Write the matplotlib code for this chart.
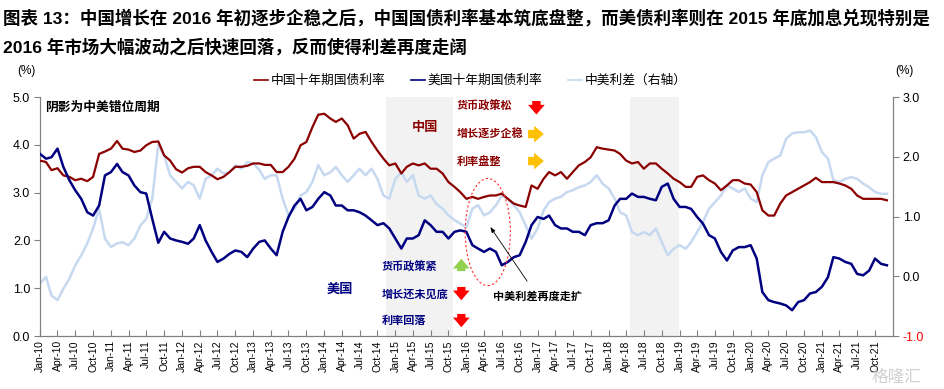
import pandas as pd
import matplotlib
matplotlib.use("Agg")
import matplotlib.pyplot as plt
from matplotlib.patches import Ellipse

plt.rcParams["font.family"] = ["Liberation Sans", "Noto Sans CJK SC", "DejaVu Sans"]

# Monthly readings, Jan 2010 - Dec 2021
cn_10y = [
    3.67, 3.64, 3.47, 3.51, 3.36, 3.33, 3.26, 3.29, 3.24, 3.33, 3.81, 3.86,
    3.92, 4.08, 3.92, 3.90, 3.85, 3.88, 3.99, 4.06, 4.07, 3.78, 3.67, 3.49,
    3.42, 3.51, 3.54, 3.54, 3.43, 3.36, 3.28, 3.33, 3.43, 3.54, 3.54, 3.56,
    3.61, 3.61, 3.58, 3.58, 3.43, 3.43, 3.54, 3.71, 3.99, 4.06, 4.37, 4.63,
    4.65, 4.55, 4.48, 4.55, 4.41, 4.13, 4.23, 4.27, 4.06, 3.88, 3.71, 3.57,
    3.61, 3.40, 3.54, 3.61, 3.57, 3.61, 3.50, 3.50, 3.40, 3.22, 3.12, 3.01,
    2.87, 2.91, 2.87, 2.91, 2.94, 2.94, 2.98, 2.87, 2.77, 2.73, 2.70, 3.15,
    3.08, 3.29, 3.43, 3.36, 3.43, 3.29, 3.43, 3.57, 3.64, 3.74, 3.95, 3.92,
    3.90, 3.88, 3.81, 3.67, 3.61, 3.64, 3.50, 3.61, 3.61, 3.50, 3.40, 3.29,
    3.22, 3.12, 3.12, 3.33, 3.36, 3.26, 3.19, 3.05, 3.15, 3.26, 3.26, 3.19,
    3.17, 3.01, 2.63, 2.52, 2.52, 2.77, 2.94, 3.01, 3.08, 3.15, 3.22, 3.31,
    3.22, 3.22, 3.22, 3.19, 3.15, 3.08, 2.94, 2.87, 2.87, 2.87, 2.87, 2.84,
]
us_10y = [
    3.81, 3.71, 3.74, 3.92, 3.54, 3.26, 3.05, 2.87, 2.59, 2.52, 2.73, 3.36,
    3.43, 3.60, 3.43, 3.36, 3.15, 3.01, 2.98, 2.45, 1.95, 2.18, 2.04, 2.00,
    1.97, 1.93, 2.04, 2.32, 2.00, 1.76, 1.55, 1.62, 1.72, 1.79, 1.76, 1.65,
    1.83, 1.97, 2.00, 1.83, 1.69, 2.18, 2.49, 2.73, 2.87, 2.63, 2.70, 2.87,
    3.01, 2.94, 2.73, 2.73, 2.63, 2.63, 2.59, 2.52, 2.42, 2.32, 2.36, 2.25,
    2.04, 1.83, 2.04, 2.04, 2.11, 2.42, 2.32, 2.18, 2.18, 2.04, 2.18, 2.21,
    2.18, 1.90, 1.83, 1.76, 1.83, 1.76, 1.48, 1.55, 1.65, 1.69, 1.97, 2.32,
    2.49, 2.45, 2.52, 2.32, 2.25, 2.25, 2.18, 2.18, 2.11, 2.32, 2.36, 2.36,
    2.42, 2.73, 2.87, 2.87, 2.98, 2.91, 2.91, 2.87, 2.84, 3.12, 3.19, 2.87,
    2.70, 2.70, 2.66, 2.49, 2.35, 2.11, 2.04, 1.76, 1.58, 1.79, 1.86, 1.86,
    1.90, 1.62, 0.92, 0.75, 0.71, 0.68, 0.64, 0.54, 0.71, 0.75, 0.89, 0.92,
    1.03, 1.23, 1.65, 1.62, 1.55, 1.51, 1.30, 1.27, 1.37, 1.62, 1.51, 1.48,
]
spread = [
    -0.12, -0.01, -0.32, -0.40, -0.21, -0.04, 0.18, 0.35, 0.55, 0.80, 1.13, 0.63,
    0.49, 0.55, 0.57, 0.52, 0.63, 0.85, 0.96, 1.30, 2.20, 2.02, 1.69, 1.58,
    1.47, 1.58, 1.52, 1.30, 1.63, 1.69, 1.80, 1.72, 1.74, 1.86, 1.80, 1.91,
    1.89, 1.78, 1.63, 1.69, 1.69, 1.30, 1.02, 1.13, 1.35, 1.41, 1.58, 1.86,
    1.69, 1.74, 1.83, 1.69, 1.58, 1.69, 1.80, 1.69, 1.80, 1.63, 1.35, 1.30,
    1.63, 1.74, 1.58, 1.69, 1.35, 1.30, 1.35, 1.21, 1.13, 1.02, 0.94, 0.88,
    0.82, 1.13, 1.19, 1.02, 1.07, 1.19, 1.35, 1.30, 1.19, 1.07, 0.85, 0.63,
    0.80, 1.10, 1.24, 1.30, 1.33, 1.41, 1.44, 1.49, 1.52, 1.58, 1.69, 1.55,
    1.47, 1.30, 1.07, 1.02, 0.74, 0.69, 0.74, 0.69, 0.80, 0.57, 0.35, 0.46,
    0.52, 0.46, 0.57, 0.74, 0.91, 1.13, 1.24, 1.35, 1.52, 1.47, 1.41, 1.47,
    1.30, 1.24, 1.69, 1.91, 1.97, 2.02, 2.30, 2.39, 2.41, 2.41, 2.44, 2.33,
    2.08, 1.97, 1.61, 1.58, 1.63, 1.66, 1.63, 1.55, 1.49, 1.41, 1.38, 1.38,
]
dates = pd.date_range("2010-01-01", periods=len(cn_10y), freq="MS")

shade_periods = [("2014-11-15", "2015-10-25"), ("2018-04-20", "2018-12-28")]

c_cn = "#8B0000"
c_us = "#000080"
c_sp = "#C6D9F1"
c_shade = "#F2F2F2"
c_axis = "#808080"

fig = plt.figure(figsize=(9.45, 3.89), dpi=100)
ax = fig.add_axes([0.0423, 0.1362, 0.9026, 0.6144])
ax2 = ax.twinx()
ax.set_zorder(ax2.get_zorder() + 1)
ax.patch.set_visible(False)

for s, e in shade_periods:
    ax2.axvspan(pd.Timestamp(s), pd.Timestamp(e), color=c_shade, lw=0, zorder=0)

ax2.plot(dates, spread, color=c_sp, lw=1.8, zorder=2)
ax.plot(dates, cn_10y, color=c_cn, lw=1.6, zorder=3)
ax.plot(dates, us_10y, color=c_us, lw=1.8, zorder=3)

ax.set_xlim(pd.Timestamp("2010-01-01"), pd.Timestamp("2022-01-01"))
ax.set_ylim(0, 5)
ax2.set_ylim(-1, 3)
ax.set_yticks([0, 1, 2, 3, 4, 5])
ax2.set_yticks([-1, 0, 1, 2, 3])
ax.set_yticklabels([f"{v:.1f}" for v in [0, 1, 2, 3, 4, 5]], fontsize=9)
ax2.set_yticklabels([f"{v:.1f}" for v in [-1, 0, 1, 2, 3]], fontsize=9)
ax2.get_yticklabels()[0].set_color("red")

xt = pd.date_range("2010-01-01", "2021-10-01", freq="3MS")
ax.set_xticks(xt)
ax.set_xticklabels([d.strftime("%b-%y") for d in xt], rotation=90, fontsize=7.5)

for a in (ax, ax2):
    a.spines["top"].set_visible(False)
    for sp in ("left", "right", "bottom"):
        a.spines[sp].set_color(c_axis)
ax.tick_params(axis="y", direction="out", length=4, color=c_axis, pad=3)
ax2.tick_params(axis="y", direction="out", length=4, color=c_axis, pad=3)
ax.tick_params(axis="x", direction="in", length=4, color=c_axis, pad=3)

# title
fig.text(0.003, 0.955, "图表 13：中国增长在 2016 年初逐步企稳之后，中国国债利率基本筑底盘整，而美债利率则在 2015 年底加息兑现特别是",
         fontsize=12.6, fontweight="bold", va="center", ha="left")
fig.text(0.003, 0.880, "2016 年市场大幅波动之后快速回落，反而使得利差再度走阔",
         fontsize=12.6, fontweight="bold", va="center", ha="left")
fig.text(0.028, 0.818, "(%)", fontsize=8.5, ha="center", va="center")
fig.text(0.957, 0.818, "(%)", fontsize=8.5, ha="center", va="center")

# legend
h1, = ax.plot([], [], color=c_cn, lw=1.2)
h2, = ax.plot([], [], color=c_us, lw=1.2)
h3, = ax.plot([], [], color=c_sp, lw=1.2)
fig.legend([h1, h2, h3], ["中国十年期国债利率", "美国十年期国债利率", "中美利差（右轴）"],
           loc="center", bbox_to_anchor=(0.498, 0.792), ncol=3, frameon=False,
           fontsize=9.2, handlelength=1.1, handletextpad=0.2, columnspacing=2.0)

# annotations
ax.text(0.006, 0.954, "阴影为中美错位周期", transform=ax.transAxes, fontsize=9.2,
        fontweight="bold", va="center", ha="left")
ax.text(0.451, 0.870, "中国", transform=ax.transAxes, fontsize=9.5,
        fontweight="bold", color=c_cn, va="center", ha="center")
ax.text(0.352, 0.192, "美国", transform=ax.transAxes, fontsize=9.5,
        fontweight="bold", color=c_us, va="center", ha="center")

cn_notes = [("货币政策松", 0.962), ("增长逐步企稳", 0.845), ("利率盘整", 0.732)]
for t, y in cn_notes:
    ax.text(0.489, y, t, transform=ax.transAxes, fontsize=8, fontweight="bold",
            color=c_cn, va="center", ha="left")
us_notes = [("货币政策紧", 0.289), ("增长还未见底", 0.176), ("利率回落", 0.063)]
for t, y in us_notes:
    ax.text(0.401, y, t, transform=ax.transAxes, fontsize=8, fontweight="bold",
            color=c_us, va="center", ha="left")


def block_arrow(x0, y0, x1, y1, color):
    ax.annotate("", xy=(x1, y1), xytext=(x0, y0), xycoords="axes fraction",
                textcoords="axes fraction",
                arrowprops=dict(arrowstyle="simple,head_width=1.2,head_length=0.7,tail_width=0.6",
                                color=color, lw=0, mutation_scale=10), zorder=6)


block_arrow(0.582, 0.995, 0.582, 0.915, "#FF0000")
block_arrow(0.569, 0.845, 0.594, 0.845, "#FFC000")
block_arrow(0.569, 0.732, 0.594, 0.732, "#FFC000")
block_arrow(0.494, 0.260, 0.494, 0.335, "#92D050")
block_arrow(0.494, 0.217, 0.494, 0.138, "#FF0000")
block_arrow(0.494, 0.104, 0.494, 0.025, "#FF0000")

ell = Ellipse((0.525, 0.435), 0.053, 0.448, transform=ax.transAxes, fill=False,
              edgecolor="#FF3030", linestyle=(0, (2, 2)), lw=0.8, zorder=6)
ax.add_patch(ell)
ax.annotate("中美利差再度走扩", xy=(0.528, 0.456), xytext=(0.583, 0.167),
            xycoords="axes fraction", textcoords="axes fraction", fontsize=8,
            fontweight="bold", ha="center", va="center",
            arrowprops=dict(arrowstyle="-|>,head_width=0.15,head_length=0.4",
                            color="black", lw=0.6, shrinkA=6, shrinkB=0), zorder=6)

fig.text(0.975, 0.03, "格隆汇", fontsize=12, color="#D0D0D0", ha="right", va="center")

fig.savefig("out.png", dpi=100)
